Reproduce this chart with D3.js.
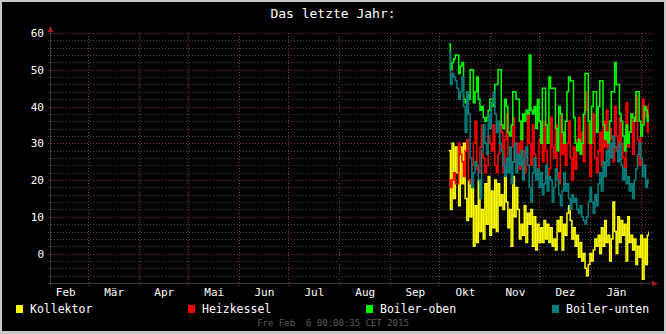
<!DOCTYPE html>
<html>
<head>
<meta charset="utf-8">
<script src="https://cdn.jsdelivr.net/npm/d3@7"></script>
<style>
  body { margin: 0; background: #000; }
  svg { display: block; }
  text { font-family: "DejaVu Sans Mono", monospace; }
</style>
</head>
<body>
<svg></svg>
<script>
// Tick labels
const monthLabels = ["Feb", "Mär", "Apr", "Mai", "Jun", "Jul", "Aug", "Sep", "Okt", "Nov", "Dez", "Jän"];
const yTicks = [0, 10, 20, 30, 40, 50, 60];

// Legend
const seriesNames = ["Kollektor", "Heizkessel", "Boiler-oben", "Boiler-unten"];
const seriesColors = ["#ffff00", "#ff0000", "#00ff00", "#008080"];

// Daily values, 7 Oct 2014 .. 6 Feb 2015
const kollektor = [
  28, 12, 30, 15, 29, 22, 13, 29, 19, 30, 15, 9, 20, 10, 18, 2, 13, 3, 20, 6, 12, 4, 19, 8, 21, 5,
  17, 7, 20, 6, 19, 13, 16, 12, 21, 14, 7, 12, 2, 21, 10, 18, 12, 4, 8, 5, 13, 3, 11, 8, 12, 2, 10, 1, 8, 3,
  7, 3, 9, 4, 8, 3, 7, 2, 4, 1, 9, 6, 10, 1, 8, 5, 11, 13, 9, 4, 7, 2, 5, -1, 3, -2, 0, -4, -6, -3, 0, -2, 1, 4, 2, 5, 0,
  7, 2, 9, 3, 5, -2, 4, 14, 6, 0, 10, 3, 9, 5, 8, -2, 10, 3, 5, 1, 4, -3, 2, -1, 5, -7, 4, -3, 5, 6
];
const heizkessel = [
  20, 18, 20, 22, 19, 19, 30, 27, 25, 21, 28, 31, 20, 19, 24, 30, 36, 23, 22, 29, 35, 26, 22, 24, 32, 30,
  28, 35, 24, 22, 27, 36, 33, 22, 31, 38, 26, 23, 29, 37, 25, 24, 30, 23, 36, 28, 22, 26, 38, 30, 24, 35, 27, 21, 22, 31,
  31, 25, 36, 28, 20, 23, 37, 29, 26, 35, 22, 19, 38, 27, 33, 24, 30, 36, 26, 20, 29, 23, 31, 37, 28, 33, 25, 44, 39, 30, 21,
  30, 38, 26, 22, 28, 33, 24, 36, 29, 39, 27, 34, 31, 25, 40, 32, 28, 37, 30, 26, 22, 41, 29, 33, 38, 27, 36, 43, 31, 24, 34, 42, 37, 40, 33, 41
];
const boilerOben = [
  57, 50, 52, 53, 54, 54, 49, 51, 52, 42, 41, 43, 42, 50, 50, 41, 44, 48, 42, 39, 40, 37, 36, 37, 39, 42,
  42, 40, 46, 46, 50, 50, 35, 34, 42, 40, 33, 32, 35, 44, 44, 42, 42, 36, 31, 38, 36, 39, 38, 54, 39, 38, 40, 34, 42, 36,
  30, 45, 45, 35, 30, 48, 45, 45, 45, 34, 28, 40, 38, 33, 30, 36, 44, 48, 47, 47, 37, 30, 28, 31, 27, 30, 38, 49, 49, 36, 30,
  40, 44, 44, 33, 40, 47, 47, 35, 31, 33, 30, 36, 44, 44, 52, 46, 46, 38, 36, 32, 28, 35, 30, 33, 38, 37, 36, 44, 44, 36, 32, 35, 40, 39, 36, 38
];
const boilerUnten = [
  55, 46, 49, 48, 47, 45, 42, 44, 48, 40, 33, 44, 38, 26, 18, 22, 25, 24, 20, 15, 28, 35, 30, 27, 38, 34,
  41, 44, 38, 33, 36, 30, 28, 24, 21, 26, 22, 29, 19, 25, 30, 22, 27, 24, 28, 20, 26, 29, 24, 18, 14, 22, 26, 20, 23, 18,
  22, 16, 19, 24, 17, 21, 20, 14, 18, 23, 20, 16, 13, 17, 22, 17, 19, 15, 12, 16, 14, 15, 12, 11, 13, 10, 9, 8, 10, 14, 18,
  14, 11, 16, 13, 19, 22, 17, 25, 21, 28, 24, 30, 26, 32, 29, 28, 25, 30, 24, 20, 23, 19, 21, 17, 19, 15, 20, 23, 27, 30, 26, 21, 24, 18, 20, 19
];
const allSeries = [kollektor, heizkessel, boilerOben, boilerUnten];

const W = 666, H = 334;
const margin = { l: 50, r: 17, t: 33, b: 51 };
const width = W - margin.l - margin.r;
const height = H - margin.t - margin.b;

const svg = d3.select("svg")
  .attr("width", W)
  .attr("height", H);

// Frame
svg.append("rect").attr("width", W).attr("height", H).attr("fill", "#c8c8c8");
svg.append("rect")
  .attr("x", 2).attr("y", 2)
  .attr("width", W - 4).attr("height", H - 5)
  .attr("fill", "#000");

// Scales
const t0 = new Date(2014, 1, 6), t1 = new Date(2015, 1, 6);
const xScale = d3.scaleTime().domain([t0, t1]).range([margin.l, margin.l + width]);
const yScale = d3.scaleLinear().domain([-8, 60]).range([margin.t + height, margin.t]);

// Minor horizontal grid
const minor = d3.range(-6, 61, 2).filter(v => v % 10 !== 0);
svg.append("g")
  .selectAll("line")
  .data(minor)
  .join("line")
    .attr("x1", margin.l - 2).attr("x2", margin.l + width + 3)
    .attr("y1", d => Math.round(yScale(d)) + 0.5)
    .attr("y2", d => Math.round(yScale(d)) + 0.5)
    .attr("stroke", "#4a4a4a")
    .attr("stroke-dasharray", "1,2");

// Major horizontal grid
svg.append("g")
  .selectAll("line")
  .data(yTicks)
  .join("line")
    .attr("x1", margin.l - 2).attr("x2", margin.l + width + 3)
    .attr("y1", d => Math.round(yScale(d)) + 0.5)
    .attr("y2", d => Math.round(yScale(d)) + 0.5)
    .attr("stroke", "#8c3434")
    .attr("stroke-dasharray", "1,2");

// Month grid
const monthStarts = d3.timeMonth.range(new Date(2014, 2, 1), t1);
svg.append("g")
  .selectAll("line")
  .data(monthStarts)
  .join("line")
    .attr("x1", d => Math.round(xScale(d)) + 0.5)
    .attr("x2", d => Math.round(xScale(d)) + 0.5)
    .attr("y1", margin.t)
    .attr("y2", margin.t + height + 3)
    .attr("stroke", "#8c3434")
    .attr("stroke-dasharray", "1,2");

// Axes
const yBase = Math.round(yScale(-8)) + 0.5;
svg.append("line")
  .attr("x1", margin.l + 0.5).attr("x2", margin.l + 0.5)
  .attr("y1", margin.t - 2).attr("y2", yBase + 2)
  .attr("stroke", "#3a3a3a");
svg.append("line")
  .attr("x1", margin.l - 2).attr("x2", margin.l + width + 5)
  .attr("y1", yBase).attr("y2", yBase)
  .attr("stroke", "#3a3a3a");
svg.append("path")
  .attr("d", `M${margin.l + 0.5},${margin.t - 7} L${margin.l - 2.5},${margin.t - 1} L${margin.l + 3.5},${margin.t - 1} Z`)
  .attr("fill", "#a01c1c");
svg.append("path")
  .attr("d", `M${margin.l + width + 9},${yBase} L${margin.l + width + 3},${yBase - 3} L${margin.l + width + 3},${yBase + 3} Z`)
  .attr("fill", "#a01c1c");

// Y labels
svg.append("g")
  .selectAll("text")
  .data(yTicks)
  .join("text")
    .attr("x", 44)
    .attr("y", d => yScale(d) + 4)
    .attr("text-anchor", "end")
    .attr("font-size", 11)
    .attr("fill", "#ffffff")
    .text(d => d);

// Month labels
const labelMonths = d3.timeMonth.range(new Date(2014, 1, 1), new Date(2015, 1, 1));
svg.append("g")
  .selectAll("text")
  .data(labelMonths)
  .join("text")
    .attr("x", d => (xScale(d) + xScale(d3.timeMonth.offset(d, 1))) / 2 + 1)
    .attr("y", 296)
    .attr("text-anchor", "middle")
    .attr("font-size", 11)
    .attr("fill", "#ffffff")
    .text((d, i) => monthLabels[i]);

// Data lines
const start = new Date(2014, 9, 7);
const line = d3.line()
  .x((d, i) => xScale(d3.timeDay.offset(start, i)))
  .y(d => yScale(d))
  .curve(d3.curveStepAfter);

svg.append("clipPath").attr("id", "plot")
  .append("rect")
    .attr("x", margin.l).attr("y", margin.t - 5)
    .attr("width", width).attr("height", height + 5);

svg.append("g")
  .attr("clip-path", "url(#plot)")
  .selectAll("path")
  .data(allSeries)
  .join("path")
    .attr("d", line)
    .attr("fill", "none")
    .attr("stroke", (d, i) => seriesColors[i])
    .attr("stroke-width", 1.5);

// Title
svg.append("text")
  .attr("x", W / 2).attr("y", 18)
  .attr("text-anchor", "middle")
  .attr("font-size", 13)
  .attr("fill", "#ffffff")
  .text("Das letzte Jahr:");

// Legend
const legendX = [16, 188, 366, 552];
const legend = svg.append("g")
  .selectAll("g")
  .data(seriesNames)
  .join("g")
    .attr("transform", (d, i) => `translate(${legendX[i]}, 305)`);
legend.append("rect")
  .attr("width", 7).attr("height", 8)
  .attr("fill", (d, i) => seriesColors[i]);
legend.append("text")
  .attr("x", 14).attr("y", 8)
  .attr("font-size", 11.5)
  .attr("fill", "#ffffff")
  .text(d => d);

// Timestamp
svg.append("text")
  .attr("x", W / 2).attr("y", 326)
  .attr("text-anchor", "middle")
  .attr("font-size", 9)
  .attr("fill", "#5c5c5c")
  .style("white-space", "pre")
  .text("Fre Feb  6 00:00:35 CET 2015");
</script>
</body>
</html>
